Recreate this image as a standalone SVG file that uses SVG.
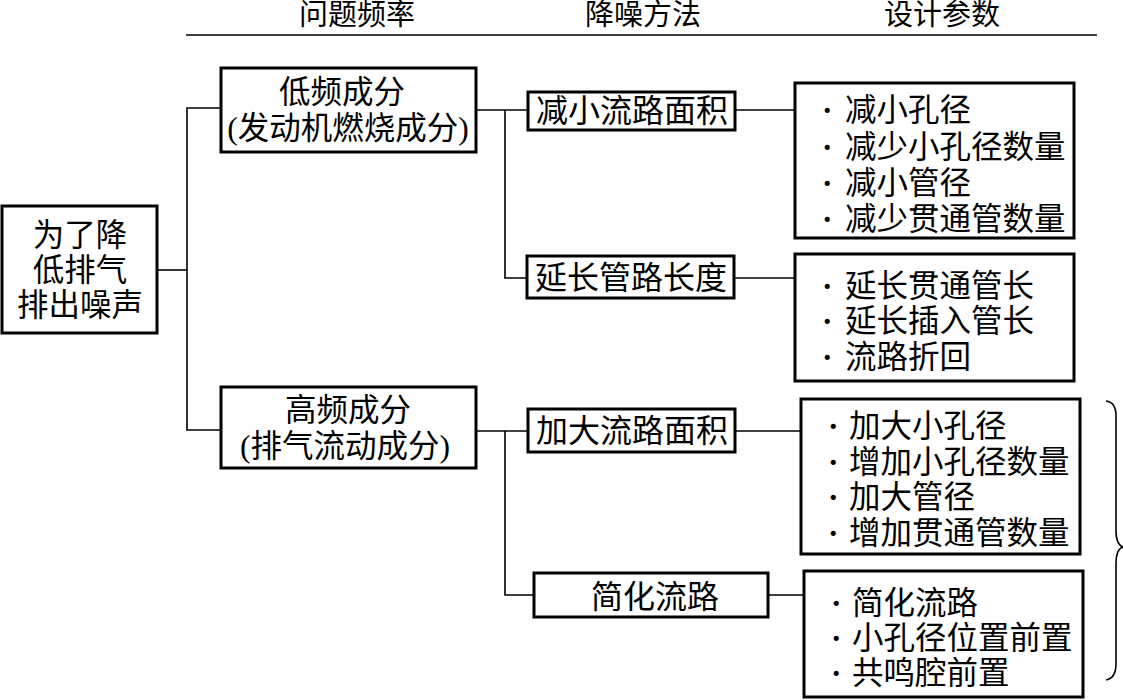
<svg xmlns="http://www.w3.org/2000/svg" width="1123" height="700" viewBox="0 0 1123 700">
<style>
.box{fill:#fff;stroke:#000;stroke-width:3}
.ln{fill:none;stroke:#000;stroke-width:1.6}
text{font-family:"Liberation Serif","Noto Sans CJK SC",serif;font-size:31.5px;fill:#000;dominant-baseline:central}
.c{text-anchor:middle}
.h{font-size:29px}
.b{font-size:32px}
.d{font-weight:bold}
</style>
<rect width="1123" height="700" fill="#fff"/>
<g id="header">
<text class="c h" x="357" y="15">问题频率</text>
<text class="c h" x="643" y="15">降噪方法</text>
<text class="c h" x="942" y="15">设计参数</text>
<line class="ln" x1="186" y1="35" x2="1097" y2="35"/>
</g>
<g id="connectors">
<polyline class="ln" points="157,270 187,270"/>
<polyline class="ln" points="221,108 187,108 187,430 221,430"/>
<polyline class="ln" points="476,110 528,110"/>
<polyline class="ln" points="505,110 505,278 527,278"/>
<polyline class="ln" points="476,431 528,431"/>
<polyline class="ln" points="505,431 505,595 534,595"/>
<line class="ln" x1="735" y1="110" x2="795" y2="110"/>
<line class="ln" x1="734" y1="278" x2="795" y2="278"/>
<line class="ln" x1="735" y1="431" x2="801" y2="431"/>
<line class="ln" x1="768" y1="595" x2="804" y2="595"/>
</g>
<g id="root">
<rect class="box" x="2" y="206" width="155" height="127"/>
<text class="c" x="80" y="235">为了降</text>
<text class="c" x="80" y="270">低排气</text>
<text class="c" x="80" y="305">排出噪声</text>
</g>
<g id="low">
<rect class="box" x="221" y="68" width="255" height="84"/>
<text class="c" x="342" y="92">低频成分</text>
<text class="c" x="348" y="128">(发动机燃烧成分)</text>
</g>
<g id="high">
<rect class="box" x="221" y="387" width="255" height="81"/>
<text class="c" x="348" y="410">高频成分</text>
<text class="c" x="345" y="446">(排气流动成分)</text>
</g>
<g id="m1">
<rect class="box" x="528" y="92" width="207" height="38"/>
<text class="c b" x="632" y="111">减小流路面积</text>
</g>
<g id="m2">
<rect class="box" x="527" y="256" width="207" height="42"/>
<text class="c b" x="631" y="278">延长管路长度</text>
</g>
<g id="m3">
<rect class="box" x="528" y="409" width="207" height="43"/>
<text class="c b" x="632" y="431">加大流路面积</text>
</g>
<g id="m4">
<rect class="box" x="534" y="573" width="234" height="44"/>
<text class="c b" x="655" y="597">简化流路</text>
</g>
<g id="p1">
<rect class="box" x="795" y="83" width="279" height="155"/>
<text x="822" y="110"><tspan class="d">·</tspan><tspan x="845">减小孔径</tspan></text>
<text x="822" y="147"><tspan class="d">·</tspan><tspan x="845">减少小孔径数量</tspan></text>
<text x="822" y="183"><tspan class="d">·</tspan><tspan x="845">减小管径</tspan></text>
<text x="822" y="219"><tspan class="d">·</tspan><tspan x="845">减少贯通管数量</tspan></text>
</g>
<g id="p2">
<rect class="box" x="795" y="254" width="279" height="127"/>
<text x="822" y="286"><tspan class="d">·</tspan><tspan x="845">延长贯通管长</tspan></text>
<text x="822" y="321"><tspan class="d">·</tspan><tspan x="845">延长插入管长</tspan></text>
<text x="822" y="357"><tspan class="d">·</tspan><tspan x="845">流路折回</tspan></text>
</g>
<g id="p3">
<rect class="box" x="801" y="399" width="279" height="155"/>
<text x="828" y="426"><tspan class="d">·</tspan><tspan x="849">加大小孔径</tspan></text>
<text x="828" y="462"><tspan class="d">·</tspan><tspan x="849">增加小孔径数量</tspan></text>
<text x="828" y="497"><tspan class="d">·</tspan><tspan x="849">加大管径</tspan></text>
<text x="828" y="533"><tspan class="d">·</tspan><tspan x="849">增加贯通管数量</tspan></text>
</g>
<g id="p4">
<rect class="box" x="804" y="571" width="279" height="126"/>
<text x="831" y="603"><tspan class="d">·</tspan><tspan x="852">简化流路</tspan></text>
<text x="831" y="638"><tspan class="d">·</tspan><tspan x="852">小孔径位置前置</tspan></text>
<text x="831" y="673"><tspan class="d">·</tspan><tspan x="852">共鸣腔前置</tspan></text>
</g>
<g id="brace">
<path class="ln" d="M1106,401 Q1116,402 1116,416 L1116,530 Q1116,545 1123,547 Q1116,549 1116,564 L1116,664 Q1116,678 1106,680"/>
</g>
</svg>
